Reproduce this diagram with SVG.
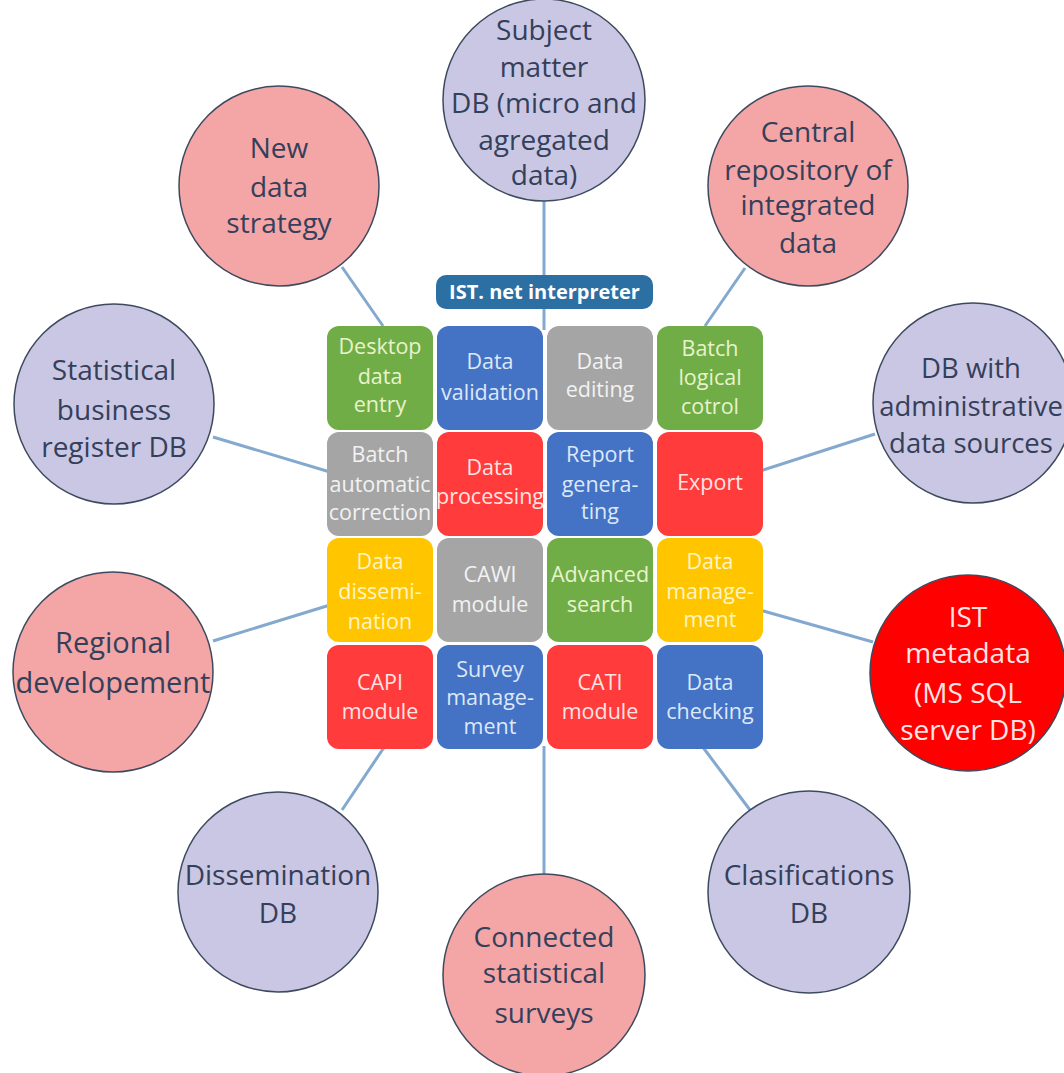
<svg xmlns="http://www.w3.org/2000/svg" width="1064" height="1073" viewBox="0 0 1064 1073">
<style>
.bg{fill:#ffffff}
.con line{stroke:#84A9CF;stroke-width:3;fill:none}
.c{stroke:#3D4A5E;stroke-width:1.5}
.lav{fill:#CAC7E4}
.pink{fill:#F4A5A6}
.red{fill:#FF0000}
.ct{font-family:"Open Sans","Liberation Sans",sans-serif;font-size:28px;fill:#34405A;text-anchor:middle}
.ctw{fill:#FFE4E4}
.tt{font-family:"Open Sans","Liberation Sans",sans-serif;font-size:21.5px;text-anchor:middle}
.g{fill:#70AD47}.gt{fill:#E8F3CC}
.b{fill:#4472C4}.bt{fill:#DDE8F8}
.y{fill:#A5A5A5}.yt{fill:#F2F2F2}
.r{fill:#FF3B3B}.rt{fill:#FFE3E3}
.o{fill:#FFC600}.ot{fill:#FFF4C4}
</style>
<rect class="bg" x="0" y="0" width="1064" height="1073"/>
<g id="connectors" class="con">
<line x1="544" y1="200" x2="544" y2="330"/>
<line x1="342" y1="267" x2="383" y2="326"/>
<line x1="745" y1="268" x2="705" y2="326"/>
<line x1="213" y1="437" x2="330" y2="472"/>
<line x1="875" y1="434" x2="760" y2="471"/>
<line x1="213" y1="641" x2="330" y2="605"/>
<line x1="873" y1="642" x2="760" y2="610"/>
<line x1="385" y1="746" x2="342" y2="810"/>
<line x1="544" y1="746" x2="544" y2="875"/>
<line x1="702" y1="746" x2="750" y2="810"/>
</g>
<g id="n-subject"><circle class="c lav" cx="544" cy="100" r="101"/>
<text class="ct"><tspan x="544" y="40">Subject</tspan><tspan x="544" y="77">matter</tspan><tspan x="544" y="113">DB (micro and</tspan><tspan x="544" y="150">agregated</tspan><tspan x="544" y="185">data)</tspan></text></g>
<g id="n-newdata"><circle class="c pink" cx="279" cy="186" r="100"/>
<text class="ct"><tspan x="279" y="158">New</tspan><tspan x="279" y="197">data</tspan><tspan x="279" y="233">strategy</tspan></text></g>
<g id="n-central"><circle class="c pink" cx="808" cy="186" r="100"/>
<text class="ct"><tspan x="808" y="142">Central</tspan><tspan x="808" y="180">repository of</tspan><tspan x="808" y="215">integrated</tspan><tspan x="808" y="253">data</tspan></text></g>
<g id="n-sbr"><circle class="c lav" cx="114" cy="404" r="100"/>
<text class="ct"><tspan x="114" y="380">Statistical</tspan><tspan x="114" y="420">business</tspan><tspan x="114" y="457">register DB</tspan></text></g>
<g id="n-admin"><circle class="c lav" cx="973" cy="403" r="100"/>
<text class="ct" style="font-size:27.5px"><tspan x="971" y="378">DB with</tspan><tspan x="971" y="416">administrative</tspan><tspan x="971" y="453">data sources</tspan></text></g>
<g id="n-regional"><circle class="c pink" cx="113" cy="672" r="100"/>
<text class="ct" style="font-size:29px"><tspan x="113" y="653">Regional</tspan><tspan x="113" y="693">developement</tspan></text></g>
<g id="n-istmeta"><circle class="c red" cx="968" cy="673" r="98"/>
<text class="ct ctw"><tspan x="968" y="627">IST</tspan><tspan x="968" y="663">metadata</tspan><tspan x="968" y="703">(MS SQL</tspan><tspan x="968" y="740">server DB)</tspan></text></g>
<g id="n-dissem"><circle class="c lav" cx="278" cy="892" r="100"/>
<text class="ct"><tspan x="278" y="885">Dissemination</tspan><tspan x="278" y="923">DB</tspan></text></g>
<g id="n-connected"><circle class="c pink" cx="544" cy="975" r="101"/>
<text class="ct"><tspan x="544" y="947">Connected</tspan><tspan x="544" y="983">statistical</tspan><tspan x="544" y="1023">surveys</tspan></text></g>
<g id="n-clasif"><circle class="c lav" cx="809" cy="892" r="101"/>
<text class="ct"><tspan x="809" y="885">Clasifications</tspan><tspan x="809" y="923">DB</tspan></text></g>
<g id="n-interpreter"><rect x="436" y="275" width="217" height="34" rx="10" fill="#2C6FA3"/>
<text x="544.5" y="299" font-family="'Open Sans','Liberation Sans',sans-serif" font-size="20" font-weight="bold" fill="#FFFFFF" text-anchor="middle">IST. net interpreter</text></g>
<g id="n-desktop"><rect class="g" x="327" y="326" width="106" height="104" rx="12"/>
<text class="tt gt"><tspan x="380" y="354">Desktop</tspan><tspan x="380" y="384">data</tspan><tspan x="380" y="412">entry</tspan></text></g>
<g id="n-validation"><rect class="b" x="437" y="326" width="106" height="104" rx="12"/>
<text class="tt bt"><tspan x="490" y="369">Data</tspan><tspan x="490" y="400">validation</tspan></text></g>
<g id="n-editing"><rect class="y" x="547" y="326" width="106" height="104" rx="12"/>
<text class="tt yt"><tspan x="600" y="369">Data</tspan><tspan x="600" y="397">editing</tspan></text></g>
<g id="n-batchlogical"><rect class="g" x="657" y="326" width="106" height="104" rx="12"/>
<text class="tt gt"><tspan x="710" y="356">Batch</tspan><tspan x="710" y="385">logical</tspan><tspan x="710" y="414">cotrol</tspan></text></g>
<g id="n-batchauto"><rect class="y" x="327" y="432" width="106" height="104" rx="12"/>
<text class="tt yt"><tspan x="380" y="462">Batch</tspan><tspan x="380" y="492">automatic</tspan><tspan x="380" y="520">correction</tspan></text></g>
<g id="n-processing"><rect class="r" x="437" y="432" width="106" height="104" rx="12"/>
<text class="tt rt"><tspan x="490" y="475">Data</tspan><tspan x="490" y="504">processing</tspan></text></g>
<g id="n-report"><rect class="b" x="547" y="432" width="106" height="104" rx="12"/>
<text class="tt bt"><tspan x="600" y="462">Report</tspan><tspan x="600" y="492">genera-</tspan><tspan x="600" y="519">ting</tspan></text></g>
<g id="n-export"><rect class="r" x="657" y="432" width="106" height="104" rx="12"/>
<text class="tt rt"><tspan x="710" y="490">Export</tspan></text></g>
<g id="n-dissemination"><rect class="o" x="327" y="538" width="106" height="104" rx="12"/>
<text class="tt ot"><tspan x="380" y="569">Data</tspan><tspan x="380" y="599">dissemi-</tspan><tspan x="380" y="629">nation</tspan></text></g>
<g id="n-cawi"><rect class="y" x="437" y="538" width="106" height="104" rx="12"/>
<text class="tt yt"><tspan x="490" y="582">CAWI</tspan><tspan x="490" y="612">module</tspan></text></g>
<g id="n-advanced"><rect class="g" x="547" y="538" width="106" height="104" rx="12"/>
<text class="tt gt"><tspan x="600" y="582">Advanced</tspan><tspan x="600" y="612">search</tspan></text></g>
<g id="n-datamgmt"><rect class="o" x="657" y="538" width="106" height="104" rx="12"/>
<text class="tt ot"><tspan x="710" y="569">Data</tspan><tspan x="710" y="599">manage-</tspan><tspan x="710" y="627">ment</tspan></text></g>
<g id="n-capi"><rect class="r" x="327" y="645" width="106" height="104" rx="12"/>
<text class="tt rt"><tspan x="380" y="690">CAPI</tspan><tspan x="380" y="719">module</tspan></text></g>
<g id="n-survey"><rect class="b" x="437" y="645" width="106" height="104" rx="12"/>
<text class="tt bt"><tspan x="490" y="677">Survey</tspan><tspan x="490" y="705">manage-</tspan><tspan x="490" y="734">ment</tspan></text></g>
<g id="n-cati"><rect class="r" x="547" y="645" width="106" height="104" rx="12"/>
<text class="tt rt"><tspan x="600" y="690">CATI</tspan><tspan x="600" y="719">module</tspan></text></g>
<g id="n-checking"><rect class="b" x="657" y="645" width="106" height="104" rx="12"/>
<text class="tt bt"><tspan x="710" y="690">Data</tspan><tspan x="710" y="719">checking</tspan></text></g>
</svg>
